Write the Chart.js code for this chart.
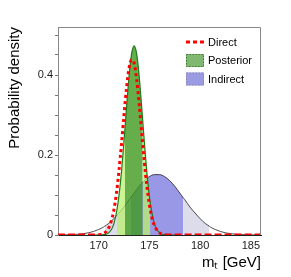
<!DOCTYPE html>
<html>
<head>
<meta charset="utf-8">
<title>Top mass probability density</title>
<script src="https://cdn.jsdelivr.net/npm/chart.js@4.4.1/dist/chart.umd.min.js"></script>
<style>
  html, body { margin: 0; padding: 0; background: #fff; }
</style>
</head>
<body>
<canvas id="chart" width="291" height="277"></canvas>
<script>
// --- data ---------------------------------------------------------------

// Direct measurement (red dotted curve)
const directX = [166, 167, 168, 169,
  170, 170.25, 170.5, 170.75, 171, 171.25, 171.5, 171.75, 172, 172.25, 172.5, 172.75,
  173, 173.25, 173.5, 173.75, 174, 174.25, 174.5, 174.75, 175, 175.25, 175.5, 175.75,
  176, 176.25, 176.5, 176.75, 177,
  178, 179, 180, 181, 182, 183, 184, 185, 186];
const directY = [0, 0, 0, 0,
  0.0006, 0.0016, 0.0039, 0.0087, 0.018, 0.035, 0.062, 0.103, 0.159, 0.226, 0.299, 0.367,
  0.417, 0.438, 0.430, 0.389, 0.327, 0.255, 0.184, 0.124, 0.077, 0.044, 0.024, 0.012,
  0.0054, 0.0023, 0.0009, 0.0003, 0.0001,
  0, 0, 0, 0, 0, 0, 0, 0, 0];

// Posterior (green)
const posteriorX = [169.5, 169.75, 170, 170.25, 170.5, 170.75, 171, 171.25, 171.5, 171.75,
  171.8, 172, 172.25, 172.5, 172.6, 172.75, 173, 173.25, 173.5, 173.75, 174, 174.25,
  174.35, 174.5, 174.75, 175, 175.1, 175.25, 175.5, 175.75, 176, 176.25, 176.5, 176.75,
  177, 177.5];
const posteriorY = [0, 0, 0.0001, 0.0003, 0.001, 0.002, 0.006, 0.013, 0.028, 0.055,
  0.062, 0.097, 0.157, 0.234, 0.267, 0.318, 0.397, 0.453, 0.473, 0.453, 0.397, 0.318,
  0.285, 0.234, 0.157, 0.097, 0.078, 0.055, 0.028, 0.013, 0.006, 0.002, 0.001, 0.0003,
  0.0001, 0];
const posterior68 = [172.6, 174.35];
const posterior95 = [171.8, 175.1];

// Indirect (blue)
const indirectX = [166, 166.5, 167, 167.5, 168, 168.5, 169, 169.5, 170, 170.5, 170.6,
  171, 171.5, 172, 172.5, 173, 173.13, 173.5, 174, 174.5, 175, 175.5, 176, 176.5, 177,
  177.5, 178, 178.37, 178.5, 179, 179.5, 180, 180.5, 180.9, 181, 181.5, 182, 182.5, 183,
  183.5, 184, 184.5, 185, 185.5, 186];
const indirectY = [0.0001, 0.0003, 0.0006, 0.0011, 0.0019, 0.0033, 0.0055, 0.0088, 0.0137, 0.020, 0.022,
  0.029, 0.041, 0.055, 0.070, 0.088, 0.092, 0.105, 0.122, 0.136, 0.146, 0.151, 0.151, 0.146, 0.136,
  0.122, 0.105, 0.092, 0.088, 0.070, 0.055, 0.041, 0.029, 0.022, 0.020, 0.0137, 0.0088, 0.0055, 0.0033,
  0.0019, 0.0011, 0.0006, 0.0003, 0.0001, 0];
const indirect68 = [173.13, 178.37];
const indirect95 = [170.6, 180.9];

// axes
const xTicks = [170, 175, 180, 185];
const xTickLabels = ['170', '175', '180', '185'];
const yTicks = [0, 0.05, 0.1, 0.15, 0.2, 0.25, 0.3, 0.35, 0.4, 0.45, 0.5];
const yTickLabels = ['0', '', '', '', '0.2', '', '', '', '0.4', '', ''];

// --- styling ----------------------------------------------------------------

const FONT = '"Liberation Sans", Arial, Helvetica, sans-serif';
const NONE = 'rgba(0,0,0,0)';

const COLORS = {
  direct:      '#ff0000',
  postLine:    '#1c7a1c',
  post68:      'rgba(62, 154, 30, 0.80)',
  post95:      'rgba(185, 240, 110, 0.75)',
  indLine:     '#222222',
  ind68:       'rgb(152, 152, 230)',
  ind95:       'rgb(220, 220, 234)',
  frame:       '#888888',
};

// legend samples, same order as datasets
const LEGEND = [
  { kind: 'line', color: COLORS.direct },
  { kind: 'box', fill: '#80b872', edge: '#3d7d33' },
  { kind: 'box', fill: '#9b9be4', edge: '#8a8aa8' },
];

const toPoints = (xs, ys) => xs.map((x, i) => ({ x, y: ys[i] }));

// fill colour of a segment depending on which credible band it falls in
function bandFill(inner, outer, innerColor, outerColor) {
  return ctx => {
    const xm = (ctx.p0.parsed.x + ctx.p1.parsed.x) / 2;
    if (xm > inner[0] && xm < inner[1]) return innerColor;
    if (xm > outer[0] && xm < outer[1]) return outerColor;
    return NONE;
  };
}

const framePlugin = {
  id: 'frame',
  afterDatasetsDraw(chart) {
    const { ctx, chartArea: a } = chart;
    ctx.save();
    ctx.strokeStyle = COLORS.frame;
    ctx.lineWidth = 1;
    ctx.beginPath();
    ctx.moveTo(a.left, a.top + 0.5);
    ctx.lineTo(a.right - 0.5, a.top + 0.5);
    ctx.lineTo(a.right - 0.5, a.bottom);
    ctx.stroke();
    ctx.restore();
  },
};

const legendPlugin = {
  id: 'insetLegend',
  afterDraw(chart) {
    const { ctx, chartArea: a } = chart;
    const x0 = a.right - 75, w = 18, h = 13;
    ctx.save();
    ctx.font = '11px ' + FONT;
    ctx.textBaseline = 'middle';
    ctx.fillStyle = '#000';
    chart.data.datasets.forEach((ds, i) => {
      const y = a.top + 15 + i * 18.5;
      const s = LEGEND[i];
      if (s.kind === 'line') {
        ctx.strokeStyle = s.color;
        ctx.lineWidth = 3;
        ctx.setLineDash([4, 3]);
        ctx.beginPath();
        ctx.moveTo(x0, y);
        ctx.lineTo(x0 + w, y);
        ctx.stroke();
      } else {
        ctx.fillStyle = s.fill;
        ctx.fillRect(x0, y - h / 2, w, h);
        ctx.strokeStyle = s.edge;
        ctx.lineWidth = 1;
        ctx.setLineDash([1.5, 1.5]);
        ctx.strokeRect(x0 + 0.5, y - h / 2 + 0.5, w - 1, h - 1);
      }
      ctx.setLineDash([]);
      ctx.fillStyle = '#000';
      ctx.fillText(ds.label, x0 + w + 4, y + 0.5);
    });
    ctx.restore();
  },
};

Chart.defaults.font.family = FONT;

new Chart(document.getElementById('chart'), {
  type: 'line',
  data: {
    datasets: [
      {
        label: 'Direct',
        data: toPoints(directX, directY),
        borderColor: COLORS.direct,
        borderWidth: 3,
        borderDash: [3, 3],
        fill: false,
        pointRadius: 0,
        cubicInterpolationMode: 'monotone',
        segment: {
          borderDash: c => (c.p0.parsed.y < 0.001 && c.p1.parsed.y < 0.001) ? [7, 3] : [3, 3],
        },
      },
      {
        label: 'Posterior',
        data: toPoints(posteriorX, posteriorY),
        borderColor: COLORS.postLine,
        borderWidth: 1.2,
        fill: 'origin',
        backgroundColor: NONE,
        pointRadius: 0,
        cubicInterpolationMode: 'monotone',
        segment: {
          backgroundColor: bandFill(posterior68, posterior95, COLORS.post68, COLORS.post95),
        },
      },
      {
        label: 'Indirect',
        data: toPoints(indirectX, indirectY),
        borderColor: COLORS.indLine,
        borderWidth: 0.8,
        fill: 'origin',
        backgroundColor: NONE,
        pointRadius: 0,
        cubicInterpolationMode: 'monotone',
        segment: {
          backgroundColor: bandFill(indirect68, indirect95, COLORS.ind68, COLORS.ind95),
        },
      },
    ],
  },
  options: {
    responsive: false,
    animation: false,
    events: [],
    layout: { padding: { left: 0, right: 30, top: 27, bottom: 0 } },
    plugins: {
      legend: { display: false },
      tooltip: { enabled: false },
    },
    scales: {
      x: {
        type: 'linear',
        min: 166,
        max: 186,
        afterBuildTicks: s => { s.ticks = xTicks.map(v => ({ value: v })); },
        afterFit: s => { s.height = 42; },
        grid: { display: false, drawTicks: false },
        border: { display: true, color: '#222', width: 1 },
        ticks: {
          autoSkip: false,
          maxRotation: 0,
          padding: 4,
          color: '#222',
          font: { size: 11 },
          callback: (v, i) => xTickLabels[i],
        },
        title: {
          display: true,
          text: 'mₜ [GeV]',
          align: 'end',
          color: '#000',
          font: { size: 15 },
          padding: { top: 0, bottom: 5 },
        },
      },
      y: {
        type: 'linear',
        min: 0,
        max: 0.52,
        afterBuildTicks: s => { s.ticks = yTicks.map(v => ({ value: v })); },
        afterFit: s => { s.width = 58; },
        grid: { drawOnChartArea: false, drawTicks: true, tickLength: 3, color: '#777' },
        border: { display: true, color: COLORS.frame, width: 1 },
        ticks: {
          autoSkip: false,
          padding: 2,
          color: '#222',
          font: { size: 11 },
          callback: (v, i) => yTickLabels[i],
        },
        title: {
          display: true,
          text: 'Probability density',
          align: 'end',
          color: '#000',
          font: { size: 15 },
          padding: { top: 6, bottom: 0 },
        },
      },
    },
  },
  plugins: [framePlugin, legendPlugin],
});
</script>
</body>
</html>
